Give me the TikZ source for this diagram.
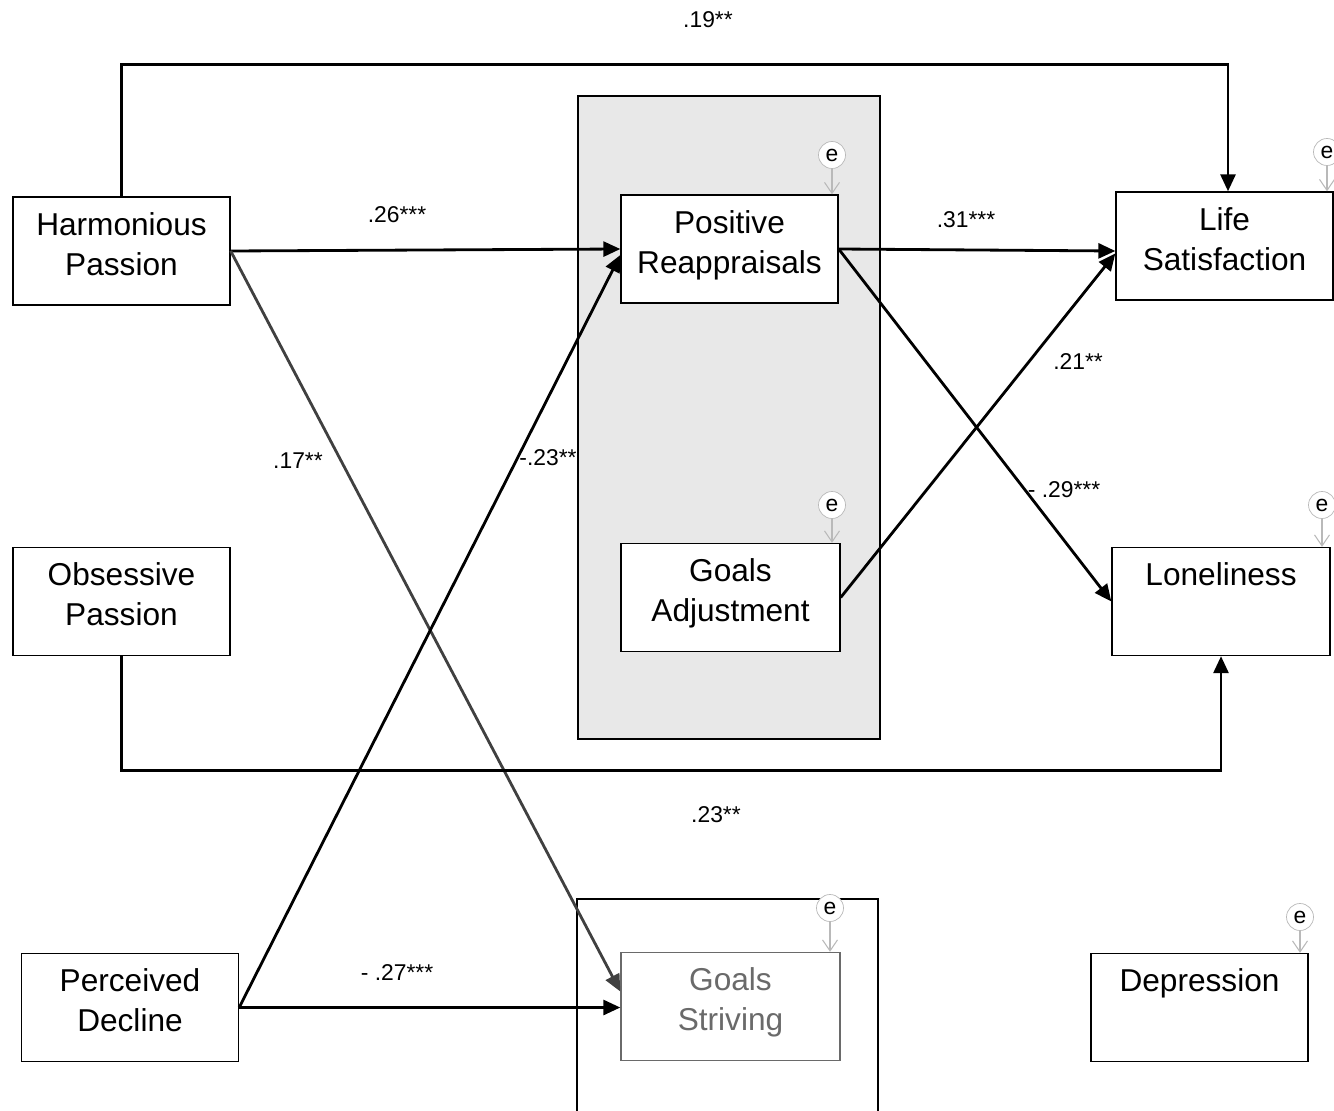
\documentclass[tikz,border=0pt]{standalone}
\usepackage{fontspec}
\setmainfont{Liberation Sans}
\usetikzlibrary{arrows.meta}

\definecolor{panel}{HTML}{E8E8E8}
\definecolor{faint}{HTML}{6A6A6A}

\tikzstyle{var} = [rectangle, draw, fill=white, line width=0.8pt, minimum width=4.34cm, minimum height=2.16cm, inner sep=0pt, align=center, text height=36pt, text depth=8.5pt, font=\fontsize{18}{22.7}\selectfont]
\tikzstyle{err} = [circle, draw=gray!55, fill=white, minimum size=0.54cm, inner sep=0pt, font=\fontsize{13}{13}\selectfont]
\tikzstyle{coef} = [inner sep=1pt, font=\fontsize{13}{15}\selectfont]

\begin{document}
\begin{tikzpicture}[x=0.02cm, y=-0.02cm]
  \tikzset{link/.style={line width=1.6pt, -{Triangle[length=0.34cm, width=0.3cm]}},
           errlink/.style={draw=gray!55, line width=0.6pt, -{Straight Barb[length=0.22cm, width=0.3cm]}}}
  \useasboundingbox (0,0) rectangle (1334,1111);

  \draw[fill=panel, line width=0.8pt] (578,96) rectangle (880,739);
  \draw[line width=0.8pt] (577,1115) |- (878,899) -- (878,1115);

  \node (hp) [var] at (121.5,251) {Harmonious\\Passion};
  \node (op) [var] at (121.5,601.5) {Obsessive\\Passion};
  \node (pd) [var] at (130,1007.5) {Perceived\\Decline};
  \node (pr) [var] at (729.5,249) {Positive\\Reappraisals};
  \node (ga) [var, minimum width=4.38cm] at (730.5,597.5) {Goals\\Adjustment};
  \node (gs) [var, minimum width=4.38cm, draw=faint, text=faint] at (730.5,1006.5) {Goals\\Striving};
  \node (ls) [var] at (1224.5,246) {Life\\Satisfaction};
  \node (lo) [var, minimum width=4.36cm] at (1221,601.5) {Loneliness\\~};
  \node (de) [var] at (1199.5,1007.5) {Depression\\~};

  \node (epr) [err] at (832,155) {e};
  \node (ega) [err] at (832,505) {e};
  \node (egs) [err] at (830,908) {e};
  \node (els) [err] at (1327,152) {e};
  \node (elo) [err] at (1322,505) {e};
  \node (ede) [err] at (1300,917) {e};
  \draw[errlink] (epr.south) -- (epr.south |- pr.north);
  \draw[errlink] (ega.south) -- (ega.south |- ga.north);
  \draw[errlink] (egs.south) -- (egs.south |- gs.north);
  \draw[errlink] (els.south) -- (els.south |- ls.north);
  \draw[errlink] (elo.south) -- (elo.south |- lo.north);
  \draw[errlink] (ede.south) -- (ede.south |- de.north);

  \draw[link] (hp.north) -- ++(0,-132) -| ([xshift=0.07cm]ls.north);
  \draw[link] (hp.east) -- (pr.west);
  \draw[link, draw=black!75, fill=black!75] (hp.east) -- ([yshift=0.3cm]gs.west);
  \draw[link] (pd.east) -- ([yshift=-0.12cm]pr.west);
  \draw[link] (pd.east) -- (pd.east -| gs.west);
  \draw[link] (pr.east) -- ([yshift=-0.1cm]ls.west);
  \draw[link] (pr.east) -- (lo.west);
  \draw[link] (ga.east) -- ([yshift=-0.15cm]ls.west);
  \draw[link] (op.south) -- ++(0,114) -| (lo.south);

  \node (c19) [coef] at (708,20) {.19**};
  \node (c26) [coef] at (397,215) {.26***};
  \node (c17) [coef] at (298,461) {.17**};
  \node (c23a) [coef] at (548,458) {-.23**};
  \node (c31) [coef] at (966,220) {.31***};
  \node (c21) [coef] at (1078,362) {.21**};
  \node (c29) [coef] at (1064,490) {- .29***};
  \node (c23b) [coef] at (716,815) {.23**};
  \node (c27) [coef] at (397,973) {- .27***};
\end{tikzpicture}
\end{document}
